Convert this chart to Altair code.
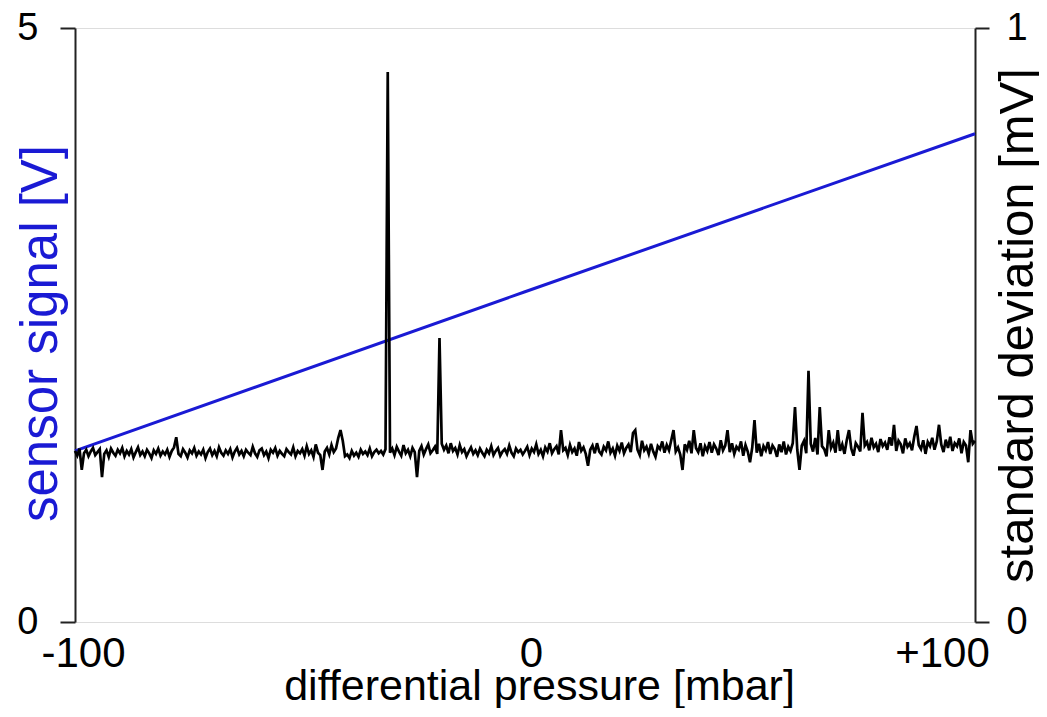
import altair as alt
import pandas as pd

# ---- data ----
x_ticks = [-100, 0, 100]
x_tick_labels = ["-100", "0", "+100"]
x_label_shift = [8, 6, -33]
left_ticks = [0, 5]
right_ticks = [0, 1]

# sensor signal [V] (blue, left axis)
sig_p = [-100, 0, 100]
sig_v = [1.44, 2.78, 4.11]

# standard deviation [mV] (black, right axis), sampled every 0.5 mbar from -100
sd = [
    0.288, 0.280, 0.292, 0.256, 0.284, 0.290, 0.279, 0.287, 0.293, 0.281, 0.286, 0.291, 0.244, 0.283, 0.289, 0.278, 0.292, 0.285, 0.280, 0.290,
    0.284, 0.293, 0.279, 0.288, 0.282, 0.291, 0.277, 0.286, 0.294, 0.281, 0.287, 0.279, 0.290, 0.284, 0.276, 0.289, 0.283, 0.292, 0.280, 0.287,
    0.282, 0.290, 0.278, 0.288, 0.294, 0.311, 0.283, 0.279, 0.291, 0.285, 0.277, 0.289, 0.284, 0.293, 0.280, 0.287, 0.282, 0.290, 0.276, 0.286,
    0.292, 0.281, 0.288, 0.279, 0.294, 0.285, 0.280, 0.289, 0.283, 0.291, 0.277, 0.287, 0.293, 0.282, 0.288, 0.279, 0.290, 0.285, 0.281, 0.295,
    0.284, 0.278, 0.289, 0.292, 0.281, 0.287, 0.276, 0.290, 0.285, 0.293, 0.280, 0.288, 0.283, 0.279, 0.291, 0.286, 0.282, 0.294, 0.279, 0.288,
    0.284, 0.291, 0.280, 0.296, 0.283, 0.289, 0.278, 0.299, 0.285, 0.281, 0.256, 0.287, 0.293, 0.282, 0.298, 0.286, 0.292, 0.310, 0.323, 0.305,
    0.279, 0.282, 0.276, 0.288, 0.280, 0.285, 0.278, 0.290, 0.283, 0.287, 0.281, 0.292, 0.279, 0.286, 0.290, 0.284, 0.288, 0.282, 0.291, 0.926,
    0.285, 0.292, 0.281, 0.295, 0.287, 0.280, 0.298, 0.284, 0.290, 0.279, 0.293, 0.286, 0.244, 0.288, 0.296, 0.282, 0.291, 0.299, 0.284, 0.289,
    0.295, 0.283, 0.478, 0.300, 0.290, 0.297, 0.284, 0.301, 0.288, 0.293, 0.282, 0.298, 0.286, 0.291, 0.279, 0.287, 0.294, 0.283, 0.289, 0.281,
    0.292, 0.285, 0.279, 0.290, 0.284, 0.296, 0.281, 0.288, 0.293, 0.280, 0.287, 0.291, 0.283, 0.297, 0.285, 0.279, 0.292, 0.286, 0.290, 0.282,
    0.288, 0.295, 0.281, 0.292, 0.286, 0.299, 0.283, 0.290, 0.279, 0.294, 0.287, 0.301, 0.284, 0.291, 0.296, 0.282, 0.323, 0.289, 0.293, 0.281,
    0.298, 0.286, 0.292, 0.280, 0.303, 0.288, 0.294, 0.283, 0.263, 0.290, 0.297, 0.284, 0.301, 0.287, 0.282, 0.295, 0.289, 0.304, 0.285, 0.292,
    0.280, 0.297, 0.288, 0.302, 0.284, 0.293, 0.299, 0.286, 0.318, 0.323, 0.290, 0.281, 0.305, 0.289, 0.295, 0.283, 0.300, 0.287, 0.278, 0.296,
    0.291, 0.304, 0.285, 0.298, 0.289, 0.306, 0.323, 0.287, 0.294, 0.282, 0.256, 0.299, 0.290, 0.305, 0.284, 0.323, 0.293, 0.286, 0.301, 0.279,
    0.296, 0.288, 0.303, 0.285, 0.299, 0.292, 0.281, 0.306, 0.289, 0.297, 0.323, 0.286, 0.301, 0.283, 0.295, 0.290, 0.304, 0.280, 0.298, 0.287,
    0.269, 0.294, 0.340, 0.285, 0.300, 0.279, 0.296, 0.289, 0.303, 0.283, 0.297, 0.291, 0.278, 0.299, 0.286, 0.304, 0.282, 0.295, 0.288, 0.301,
    0.362, 0.290, 0.256, 0.297, 0.305, 0.284, 0.423, 0.300, 0.287, 0.310, 0.282, 0.362, 0.296, 0.291, 0.279, 0.323, 0.293, 0.302, 0.285, 0.323,
    0.288, 0.299, 0.283, 0.306, 0.323, 0.292, 0.280, 0.301, 0.295, 0.287, 0.352, 0.297, 0.303, 0.289, 0.310, 0.294, 0.300, 0.286, 0.308, 0.296,
    0.302, 0.290, 0.311, 0.297, 0.332, 0.288, 0.305, 0.299, 0.284, 0.309, 0.295, 0.301, 0.289, 0.312, 0.330, 0.298, 0.291, 0.306, 0.283, 0.303,
    0.296, 0.310, 0.290, 0.304, 0.332, 0.299, 0.286, 0.307, 0.293, 0.312, 0.288, 0.301, 0.296, 0.309, 0.284, 0.303, 0.297, 0.269, 0.323, 0.300,
    0.305,
]
sd_step = 0.5
sd_start = -100

# ---- tables ----
sig_df = pd.DataFrame({"p": sig_p, "v": sig_v})
sd_df = pd.DataFrame({"p": [sd_start + sd_step * i for i in range(len(sd))], "s": sd})

FONT = "Liberation Sans"
BLUE = "#1a1ad4"

label_expr = " : ".join(
    f"datum.value == {v} ? '{t}'" for v, t in zip(x_ticks[:-1], x_tick_labels[:-1])
) + f" : '{x_tick_labels[-1]}'"

label_offset = {
    "condition": [
        {"test": f"datum.value == {v}", "value": s} for v, s in zip(x_ticks, x_label_shift)
    ],
    "value": 0,
}

x_enc = alt.X(
    "p:Q",
    scale=alt.Scale(domain=[-100, 100], nice=False, zero=False),
    axis=alt.Axis(
        values=x_ticks,
        labelExpr=label_expr,
        title="differential pressure [mbar]",
        grid=False,
        domain=False,
        ticks=True,
        tickSize=0,
        tickColor="transparent",
        labelFont=FONT,
        labelFontSize=42,
        labelColor="black",
        labelBaseline="alphabetic",
        labelPadding=44,
        labelOffset=label_offset,
        labelFlush=False,
        labelOverlap=False,
        titleFont=FONT,
        titleFontSize=43,
        titleFontWeight="normal",
        titleColor="black",
        titleBaseline="alphabetic",
        titleAlign="center",
        titleAnchor="start",
        titleX=464,
        titleY=77,
    ),
)

blue = alt.Chart(sig_df).mark_line(color=BLUE, strokeWidth=3).encode(
    x=x_enc,
    y=alt.Y(
        "v:Q",
        scale=alt.Scale(domain=[0, 5], nice=False, zero=True),
        axis=alt.Axis(
            orient="left",
            values=left_ticks,
            format="d",
            title="sensor signal [V]",
            grid=False,
            domain=True,
            domainColor="#222222",
            domainWidth=2,
            ticks=True,
            tickSize=15,
            tickColor="#222222",
            tickWidth=2,
            labelFont=FONT,
            labelFontSize=38,
            labelColor="black",
            labelPadding=22,
            labelBaseline="middle",
            labelFlush=False,
            labelOverlap=False,
            titleFont=FONT,
            titleFontSize=51,
            titleFontWeight="normal",
            titleColor=BLUE,
            titleAngle=270,
            titleAlign="center",
            titleBaseline="alphabetic",
            titleAnchor="start",
            titleX=-19,
            titleY=305,
        ),
    ),
)

black = alt.Chart(sd_df).mark_line(color="black", strokeWidth=2.7).encode(
    x=alt.X("p:Q"),
    y=alt.Y(
        "s:Q",
        scale=alt.Scale(domain=[0, 1], nice=False, zero=True),
        axis=alt.Axis(
            orient="right",
            values=right_ticks,
            format="d",
            title="standard deviation [mV]",
            grid=False,
            domain=True,
            domainColor="#222222",
            domainWidth=2,
            ticks=True,
            tickSize=14,
            tickColor="#222222",
            tickWidth=2,
            labelFont=FONT,
            labelFontSize=38,
            labelColor="black",
            labelPadding=17,
            labelBaseline="middle",
            labelFlush=False,
            labelOverlap=False,
            titleFont=FONT,
            titleFontSize=49,
            titleFontWeight="normal",
            titleColor="black",
            titleAngle=270,
            titleAlign="center",
            titleBaseline="alphabetic",
            titleAnchor="start",
            titleX=57,
            titleY=297,
        ),
    ),
)

chart = (
    alt.layer(blue, black)
    .resolve_scale(y="independent")
    .properties(
        width=900,
        height=594,
        padding={"left": 67, "top": 20, "right": 64, "bottom": 86},
        autosize=alt.AutoSizeParams(type="none"),
    )
    .configure_view(stroke="#8a8a8a", strokeWidth=2)
    .configure(background="white")
)

chart.save("out.html", embed_options={"renderer": "svg", "actions": False})
